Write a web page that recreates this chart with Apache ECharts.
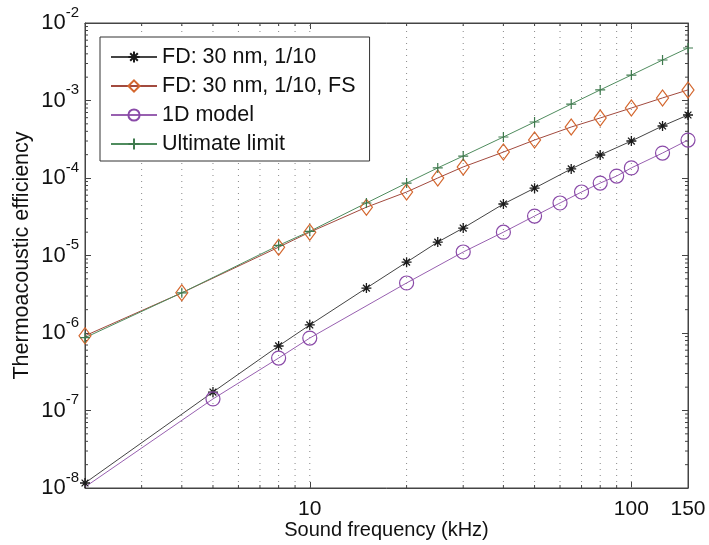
<!DOCTYPE html>
<html>
<head>
<meta charset="utf-8">
<script src="https://cdn.jsdelivr.net/npm/echarts@6/dist/echarts.min.js"></script>
<style>
  html, body { margin: 0; padding: 0; background: #fff; }
  #chart { width: 709px; height: 545px; }
</style>
</head>
<body>
<div id="chart"></div>
<script>
// Thermoacoustic efficiency vs. sound frequency (log-log)
const fdFreq = [2, 5, 8, 10, 15, 20, 25, 30, 40, 50, 65, 80, 100, 125, 150];
const fdVal = [1.16e-8, 1.73e-7, 6.8e-7, 1.27e-6, 3.8e-6, 8.2e-6, 1.49e-5, 2.26e-5, 4.62e-5, 7.4e-5, 1.31e-4, 1.98e-4, 3.0e-4, 4.69e-4, 6.5e-4];

const fsFreq = [2, 4, 8, 10, 15, 20, 25, 30, 40, 50, 65, 80, 100, 125, 150];
const fsVal = [9.2e-7, 3.3e-6, 1.28e-5, 2.0e-5, 4.2e-5, 6.6e-5, 1.0e-4, 1.39e-4, 2.16e-4, 3.09e-4, 4.55e-4, 5.95e-4, 8.0e-4, 1.08e-3, 1.37e-3];

const oneDFreq = [2, 5, 8, 10, 20, 30, 40, 50, 60, 70, 80, 90, 100, 125, 150];
const oneDVal = [1.03e-8, 1.41e-7, 4.75e-7, 8.6e-7, 4.42e-6, 1.11e-5, 2.0e-5, 3.23e-5, 4.76e-5, 6.6e-5, 8.6e-5, 1.06e-4, 1.35e-4, 2.1e-4, 3.09e-4];

const ultFreq = [2, 4, 8, 10, 15, 20, 25, 30, 40, 50, 65, 80, 100, 125, 150];
const ultVal = [8.7e-7, 3.3e-6, 1.35e-5, 2.05e-5, 4.76e-5, 8.6e-5, 1.35e-4, 1.92e-4, 3.38e-4, 5.28e-4, 9.0e-4, 1.37e-3, 2.13e-3, 3.33e-3, 4.76e-3];

const seriesNames = ['FD: 30 nm, 1/10', 'FD: 30 nm, 1/10, FS', '1D model', 'Ultimate limit'];

// axis ranges and tick labels
const xMin = 2, xMax = 150;
const yMin = 1e-8, yMax = 1e-2;
const xTickLabels = [10, 100, 150];
const xMajorTicks = [10, 100];
const xGridFreqs = [3, 4, 5, 6, 7, 8, 9, 10, 20, 30, 40, 50, 60, 70, 80, 90, 100];
const yMinorFactors = [2, 3, 4, 5, 6, 7, 8, 9];

const zip = (xs, ys) => xs.map((x, i) => [x, ys[i]]);

const FONT = '"Liberation Sans", Arial, sans-serif';
const AX = '#444';

// minor decade marks on the value axis
const yMinorVals = [];
for (let e = -8; e < -2; e++) {
  yMinorFactors.forEach(f => yMinorVals.push(f * Math.pow(10, e)));
}

const starPath = 'path://M5 0L5 10M0 5L10 5M1.6 1.6L8.4 8.4M8.4 1.6L1.6 8.4';
const plusPath = 'path://M5 0L5 10M0 5L10 5';

const chart = echarts.init(document.getElementById('chart'), null, { renderer: 'canvas' });

// the 1D model's first point sits in the corner without a marker
const oneDData = zip(oneDFreq, oneDVal).map((p, i) => i === 0 ? { value: p, symbolSize: 0 } : p);

const option = {
  backgroundColor: '#fff',
  animation: false,
  grid: {
    left: 85, right: 21, top: 23, bottom: 57,
    outerBoundsMode: 'none', containLabel: false,
    show: true, borderColor: AX, borderWidth: 1, backgroundColor: 'transparent'
  },
  legend: {
    left: 100, top: 37,
    orient: 'vertical',
    backgroundColor: '#fff',
    borderColor: '#333', borderWidth: 1,
    padding: [9, 14, 6, 10],
    itemWidth: 46, itemHeight: 14, itemGap: 7,
    textStyle: { fontFamily: FONT, fontSize: 21.5, color: '#111' },
    data: seriesNames
  },
  xAxis: [{
    type: 'log', logBase: 10, min: xMin, max: xMax,
    name: 'Sound frequency (kHz)', nameLocation: 'middle', nameGap: 32, nameMoveOverlap: false,
    nameTextStyle: { fontFamily: FONT, fontSize: 20, color: '#111' },
    axisLine: { show: true, lineStyle: { color: AX, width: 1 } },
    axisTick: { show: true, inside: true, length: 6, lineStyle: { color: AX }, customValues: xMajorTicks },
    axisLabel: {
      fontFamily: FONT, fontSize: 21, color: '#111', margin: 11,
      customValues: xTickLabels,
      formatter: v => String(Math.round(v))
    },
    splitLine: { show: false }
  }, {
    type: 'log', logBase: 10, min: xMin, max: xMax, position: 'top',
    axisLine: { show: true, lineStyle: { color: AX, width: 1 } },
    axisTick: { show: true, inside: true, length: 6, lineStyle: { color: AX }, customValues: xMajorTicks },
    axisLabel: { show: false },
    splitLine: { show: false }
  }],
  yAxis: [{
    type: 'log', logBase: 10, min: yMin, max: yMax,
    name: 'Thermoacoustic efficiency', nameLocation: 'middle', nameGap: 52, nameMoveOverlap: false,
    nameTextStyle: { fontFamily: FONT, fontSize: 21.5, color: '#111' },
    axisLine: { show: true, lineStyle: { color: AX, width: 1 } },
    axisTick: { show: true, inside: true, length: 6, lineStyle: { color: AX } },
    axisLabel: {
      margin: 6,
      formatter: v => '{b|10}{s|' + Math.round(Math.log10(v)) + '}',
      rich: {
        b: { fontFamily: FONT, fontSize: 22, color: '#111', lineHeight: 22, verticalAlign: 'bottom' },
        s: { fontFamily: FONT, fontSize: 15, color: '#111', lineHeight: 15, padding: [0, 0, 14, 0], verticalAlign: 'bottom' }
      }
    },
    splitLine: { show: false }
  }, {
    type: 'log', logBase: 10, min: yMin, max: yMax, position: 'right',
    axisLine: { show: true, lineStyle: { color: AX, width: 1 } },
    axisTick: { show: true, inside: true, length: 6, lineStyle: { color: AX } },
    axisLabel: { show: false },
    splitLine: { show: false }
  }],
  series: [
    // dotted vertical grid lines with minor ticks along the frame
    {
      type: 'custom', name: 'grid', silent: true, z: 1,
      xAxisIndex: 0, yAxisIndex: 0,
      data: xGridFreqs.map(f => [f, yMin, 0]).concat(yMinorVals.map(v => [xMin, v, 1])),
      renderItem: (params, api) => {
        const kind = api.value(2);
        const style = { stroke: AX, lineWidth: 1 };
        if (kind === 0) {
          const f = api.value(0);
          const bot = api.coord([f, yMin]);
          const top = api.coord([f, yMax]);
          const major = xMajorTicks.indexOf(f) >= 0;
          const children = [{
            type: 'line',
            shape: { x1: bot[0], y1: bot[1], x2: top[0], y2: top[1] },
            style: { stroke: '#888', lineWidth: 1, lineDash: [1, 5] }
          }];
          if (!major) {
            children.push({ type: 'line', shape: { x1: bot[0], y1: bot[1], x2: bot[0], y2: bot[1] - 3 }, style });
            children.push({ type: 'line', shape: { x1: top[0], y1: top[1], x2: top[0], y2: top[1] + 3 }, style });
          }
          return { type: 'group', children };
        }
        const v = api.value(1);
        const l = api.coord([xMin, v]);
        const r = api.coord([xMax, v]);
        return {
          type: 'group',
          children: [
            { type: 'line', shape: { x1: l[0], y1: l[1], x2: l[0] + 3, y2: l[1] }, style },
            { type: 'line', shape: { x1: r[0], y1: r[1], x2: r[0] - 3, y2: r[1] }, style }
          ]
        };
      }
    },
    {
      name: seriesNames[0], type: 'line', data: zip(fdFreq, fdVal), z: 3,
      symbol: starPath, symbolSize: 10, showAllSymbol: true,
      lineStyle: { color: '#444', width: 1 },
      itemStyle: { color: 'none', borderColor: '#1a1a1a', borderWidth: 1.3 }
    },
    {
      name: seriesNames[1], type: 'line', data: zip(fsFreq, fsVal), z: 3,
      symbol: 'diamond', symbolSize: [12, 16], showAllSymbol: true,
      lineStyle: { color: '#a24a3e', width: 1 },
      itemStyle: { color: 'none', borderColor: '#d4672e', borderWidth: 1.2 }
    },
    {
      name: seriesNames[2], type: 'line', data: oneDData, z: 3,
      symbol: 'circle', symbolSize: 14, showAllSymbol: true,
      lineStyle: { color: '#9860b0', width: 1 },
      itemStyle: { color: 'none', borderColor: '#8a4aa8', borderWidth: 1.2 }
    },
    {
      name: seriesNames[3], type: 'line', data: zip(ultFreq, ultVal), z: 3,
      symbol: plusPath, symbolSize: 10, showAllSymbol: true,
      lineStyle: { color: '#4f8c5e', width: 1 },
      itemStyle: { color: 'none', borderColor: '#3f7a4e', borderWidth: 1.2 }
    }
  ]
};

chart.setOption(option);
</script>
</body>
</html>
